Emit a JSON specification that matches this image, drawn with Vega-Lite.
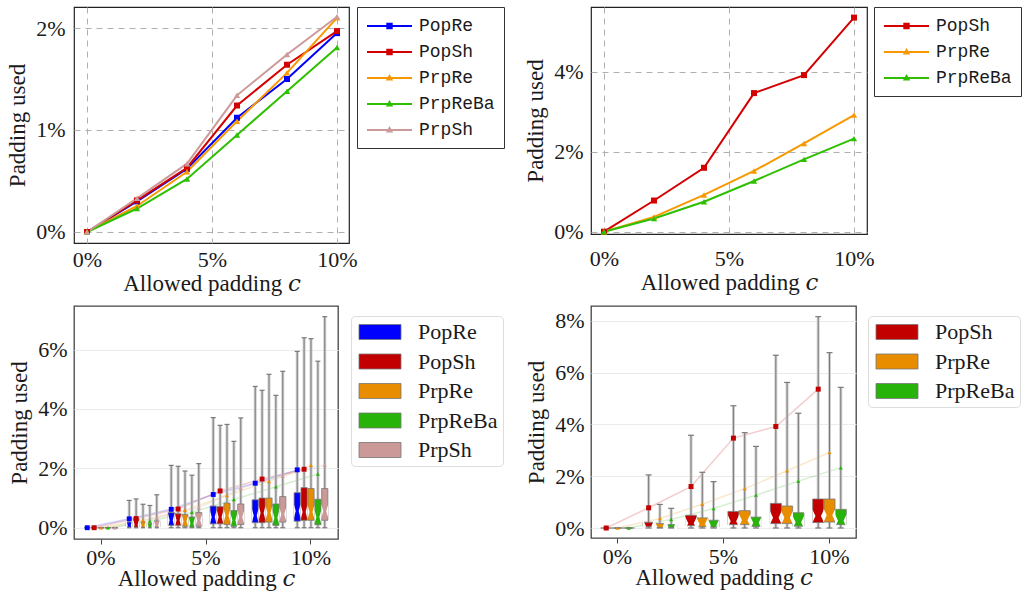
{
"$schema": "https://vega.github.io/schema/vega-lite/v6.json",
"padding": {"left": 6, "top": 5, "right": 5, "bottom": 0},
"background": "white",
"config": {
  "font": "Liberation Serif",
  "view": {"stroke": null},
  "axis": {"labelFont": "Liberation Serif", "titleFont": "Liberation Serif, DejaVu Serif", "labelFontSize": 22, "titleFontSize": 23, "titleFontWeight": "normal", "labelColor": "#1a1a1a", "titleColor": "#1a1a1a", "domain": false, "labelOverlap": false, "labelFlush": false}
},
"datasets": {
  "left": [
    {"c":0,"s":"PopRe","lo":0,"q1":0,"med":0,"q3":0,"hi":0,"mean":0},
    {"c":0,"s":"PopSh","lo":0,"q1":0,"med":0,"q3":0,"hi":0,"mean":0},
    {"c":0,"s":"PrpRe","lo":0,"q1":0,"med":0,"q3":0,"hi":0,"mean":0},
    {"c":0,"s":"PrpReBa","lo":0,"q1":0,"med":0,"q3":0,"hi":0,"mean":0},
    {"c":0,"s":"PrpSh","lo":0,"q1":0,"med":0,"q3":0,"hi":0,"mean":0},
    {"c":2,"s":"PopRe","lo":0,"q1":0.02,"med":0.08,"q3":0.19,"hi":0.92,"mean":0.30},
    {"c":2,"s":"PopSh","lo":0,"q1":0.02,"med":0.10,"q3":0.30,"hi":0.97,"mean":0.31},
    {"c":2,"s":"PrpRe","lo":0,"q1":0.02,"med":0.07,"q3":0.19,"hi":0.79,"mean":0.255},
    {"c":2,"s":"PrpReBa","lo":0,"q1":0.01,"med":0.05,"q3":0.14,"hi":0.75,"mean":0.23},
    {"c":2,"s":"PrpSh","lo":0,"q1":0.02,"med":0.08,"q3":0.23,"hi":1.11,"mean":0.33},
    {"c":4,"s":"PopRe","lo":0,"q1":0.08,"med":0.25,"q3":0.51,"hi":2.10,"mean":0.62},
    {"c":4,"s":"PopSh","lo":0,"q1":0.08,"med":0.25,"q3":0.47,"hi":2.07,"mean":0.63},
    {"c":4,"s":"PrpRe","lo":0,"q1":0.05,"med":0.22,"q3":0.44,"hi":1.91,"mean":0.59},
    {"c":4,"s":"PrpReBa","lo":0,"q1":0.02,"med":0.15,"q3":0.36,"hi":1.77,"mean":0.52},
    {"c":4,"s":"PrpSh","lo":0,"q1":0.05,"med":0.25,"q3":0.51,"hi":2.16,"mean":0.67},
    {"c":6,"s":"PopRe","lo":0,"q1":0.13,"med":0.36,"q3":0.73,"hi":3.71,"mean":1.12},
    {"c":6,"s":"PopSh","lo":0,"q1":0.13,"med":0.36,"q3":0.71,"hi":3.45,"mean":1.24},
    {"c":6,"s":"PrpRe","lo":0,"q1":0.11,"med":0.41,"q3":0.83,"hi":3.48,"mean":1.085},
    {"c":6,"s":"PrpReBa","lo":0,"q1":0.05,"med":0.25,"q3":0.58,"hi":2.91,"mean":0.95},
    {"c":6,"s":"PrpSh","lo":0,"q1":0.11,"med":0.36,"q3":0.80,"hi":3.70,"mean":1.34},
    {"c":8,"s":"PopRe","lo":0,"q1":0.17,"med":0.41,"q3":0.94,"hi":4.76,"mean":1.50},
    {"c":8,"s":"PopSh","lo":0,"q1":0.17,"med":0.50,"q3":1.00,"hi":4.63,"mean":1.64},
    {"c":8,"s":"PrpRe","lo":0,"q1":0.19,"med":0.50,"q3":1.00,"hi":5.17,"mean":1.56},
    {"c":8,"s":"PrpReBa","lo":0,"q1":0.08,"med":0.34,"q3":0.80,"hi":4.46,"mean":1.38},
    {"c":8,"s":"PrpSh","lo":0,"q1":0.19,"med":0.45,"q3":1.05,"hi":5.27,"mean":1.74},
    {"c":10,"s":"PopRe","lo":0,"q1":0.22,"med":0.56,"q3":1.18,"hi":5.94,"mean":1.95},
    {"c":10,"s":"PopSh","lo":0,"q1":0.25,"med":0.53,"q3":1.35,"hi":6.40,"mean":1.97},
    {"c":10,"s":"PrpRe","lo":0,"q1":0.25,"med":0.53,"q3":1.32,"hi":6.37,"mean":2.10},
    {"c":10,"s":"PrpReBa","lo":0,"q1":0.10,"med":0.36,"q3":0.96,"hi":5.61,"mean":1.81},
    {"c":10,"s":"PrpSh","lo":0,"q1":0.25,"med":0.56,"q3":1.32,"hi":7.11,"mean":2.11}
  ],
  "right": [
    {"c":0,"s":"PopSh","lo":0,"q1":0,"med":0,"q3":0,"hi":0,"mean":0},
    {"c":0,"s":"PrpRe","lo":0,"q1":0,"med":0,"q3":0,"hi":0,"mean":0},
    {"c":0,"s":"PrpReBa","lo":0,"q1":0,"med":0,"q3":0,"hi":0,"mean":0},
    {"c":2,"s":"PopSh","lo":0,"q1":0.05,"med":0.08,"q3":0.22,"hi":2.05,"mean":0.78},
    {"c":2,"s":"PrpRe","lo":0,"q1":0.02,"med":0.06,"q3":0.17,"hi":0.91,"mean":0.37},
    {"c":2,"s":"PrpReBa","lo":0,"q1":0.02,"med":0.05,"q3":0.13,"hi":0.76,"mean":0.33},
    {"c":4,"s":"PopSh","lo":0,"q1":0.09,"med":0.18,"q3":0.49,"hi":3.58,"mean":1.60},
    {"c":4,"s":"PrpRe","lo":0,"q1":0.05,"med":0.15,"q3":0.39,"hi":2.15,"mean":0.92},
    {"c":4,"s":"PrpReBa","lo":0,"q1":0.04,"med":0.10,"q3":0.30,"hi":1.79,"mean":0.75},
    {"c":6,"s":"PopSh","lo":0,"q1":0.13,"med":0.26,"q3":0.64,"hi":4.72,"mean":3.47},
    {"c":6,"s":"PrpRe","lo":0,"q1":0.13,"med":0.30,"q3":0.67,"hi":3.68,"mean":1.52},
    {"c":6,"s":"PrpReBa","lo":0,"q1":0.06,"med":0.20,"q3":0.42,"hi":3.15,"mean":1.27},
    {"c":8,"s":"PopSh","lo":0,"q1":0.17,"med":0.40,"q3":0.95,"hi":6.67,"mean":3.92},
    {"c":8,"s":"PrpRe","lo":0,"q1":0.17,"med":0.40,"q3":0.85,"hi":5.62,"mean":2.21},
    {"c":8,"s":"PrpReBa","lo":0,"q1":0.07,"med":0.22,"q3":0.59,"hi":4.43,"mean":1.81},
    {"c":10,"s":"PopSh","lo":0,"q1":0.21,"med":0.46,"q3":1.12,"hi":8.16,"mean":5.36},
    {"c":10,"s":"PrpRe","lo":0,"q1":0.23,"med":0.49,"q3":1.12,"hi":6.77,"mean":2.92},
    {"c":10,"s":"PrpReBa","lo":0,"q1":0.13,"med":0.28,"q3":0.72,"hi":5.43,"mean":2.33}
  ]
},
"columns": 2,
"spacing": {"row": 63, "column": 241},
"bounds": "flush",
"align": "all",
"resolve": {"scale": {"x":"independent","y":"independent","color":"independent","fill":"independent","stroke":"independent","shape":"independent","xOffset":"independent"}, "legend": {"color":"independent","shape":"independent","fill":"independent","stroke":"independent"}},
"concat": [
   {
    "width": 275, "height": 236,
    "view": {"stroke": "#222222", "strokeWidth": 1.2},
    "data": {"name": "left"},
    "encoding": {
      "x": {"field": "c", "type": "quantitative", "scale": {"domain": [-0.52, 10.48], "nice": false, "zero": false},
            "axis": {"values": [0,5,10], "labelExpr": "datum.value + '%'", "title": "Allowed padding 𝑐", "grid": true, "gridDash": [6,5], "gridColor": "#b0b0b0", "ticks": false, "tickSize": 0, "labelPadding": 6, "titlePadding": 2}},
      "y": {"field": "mean", "type": "quantitative", "scale": {"domain": [-0.108, 2.206], "nice": false, "zero": false},
            "axis": {"values": [0,1,2], "labelExpr": "datum.value + '%'", "title": "Padding used", "grid": true, "gridDash": [6,5], "gridColor": "#b0b0b0", "ticks": false, "tickSize": 0, "labelPadding": 9, "titlePadding": 6}}
    },
    "layer": [
      {"mark": {"type": "line", "strokeWidth": 2}, "encoding": {"stroke": {"field": "s", "type": "nominal", "scale": {"domain": ["PrpSh","PrpReBa","PrpRe","PopSh","PopRe"], "range": ["#cc9a9a","#2dbf00","#f79800","#d40000","#0000ff"]}, "legend": null}}},
      {"transform": [{"filter": "indexof(datum.s, 'Pop') === 0"}], "mark": {"type": "point", "filled": true, "shape": "square", "size": 36, "opacity": 1}, "encoding": {"fill": {"field": "s", "type": "nominal", "scale": {"domain": ["PopSh","PrpRe","PrpReBa","PrpSh","PopRe"], "range": ["#d40000","#f79800","#2dbf00","#cc9a9a","#0000ff"]}, "legend": null}}},
      {"transform": [{"filter": "indexof(datum.s, 'Prp') === 0"}], "mark": {"type": "point", "filled": true, "shape": "triangle-up", "size": 40, "opacity": 1}, "encoding": {"fill": {"field": "s", "type": "nominal", "scale": {"domain": ["PopSh","PrpRe","PrpReBa","PrpSh","PopRe"], "range": ["#d40000","#f79800","#2dbf00","#cc9a9a","#0000ff"]}, "legend": null}}},
      {"transform": [{"filter": "false"}], "mark": {"type": "point", "filled": true, "opacity": 1},
       "encoding": {
         "color": {"field": "s", "type": "nominal", "scale": {"domain": ["PopRe","PopSh","PrpRe","PrpReBa","PrpSh"], "range": ["#0000ff","#d40000","#f79800","#2dbf00","#cc9a9a"]},
                   "legend": {"title": null, "orient": "none", "legendX": 283, "legendY": 0, "labelFont": "Liberation Mono", "labelFontSize": 18, "labelColor": "#1a1a1a", "symbolSize": 400, "symbolOffset": 13.5, "labelOffset": 19.5, "rowPadding": 7, "padding": 9, "strokeColor": "#333333", "fillColor": "white", "symbolStrokeWidth": 0, "symbolOpacity": 1}},
         "shape": {"field": "s", "type": "nominal", "scale": {"domain": ["PopRe","PopSh","PrpRe","PrpReBa","PrpSh"], "range": ["M-2.25,-0.11H2.25V0.11H-2.25ZM-0.32,-0.32H0.32V0.32H-0.32Z","M-2.25,-0.11H2.25V0.11H-2.25ZM-0.32,-0.32H0.32V0.32H-0.32Z","M-2.25,-0.11H2.25V0.11H-2.25ZM0,-0.4L0.37,0.26H-0.37Z","M-2.25,-0.11H2.25V0.11H-2.25ZM0,-0.4L0.37,0.26H-0.37Z","M-2.25,-0.11H2.25V0.11H-2.25ZM0,-0.4L0.37,0.26H-0.37Z"]},
                   "legend": {"title": null, "orient": "none", "legendX": 283, "legendY": 0, "labelFont": "Liberation Mono", "labelFontSize": 18, "labelColor": "#1a1a1a", "symbolSize": 400, "symbolOffset": 13.5, "labelOffset": 19.5, "rowPadding": 7, "padding": 9, "strokeColor": "#333333", "fillColor": "white", "symbolStrokeWidth": 0, "symbolOpacity": 1}}
       }}
    ]
   },
   {
    "width": 276, "height": 227,
    "view": {"stroke": "#222222", "strokeWidth": 1.2},
    "data": {"name": "right"},
    "encoding": {
      "x": {"field": "c", "type": "quantitative", "scale": {"domain": [-0.52, 10.52], "nice": false, "zero": false},
            "axis": {"values": [0,5,10], "labelExpr": "datum.value + '%'", "title": "Allowed padding 𝑐", "grid": true, "gridDash": [6,5], "gridColor": "#b0b0b0", "ticks": false, "tickSize": 0, "labelPadding": 14, "titlePadding": 2}},
      "y": {"field": "mean", "type": "quantitative", "scale": {"domain": [-0.058, 5.625], "nice": false, "zero": false},
            "axis": {"values": [0,2,4], "labelExpr": "datum.value + '%'", "title": "Padding used", "grid": true, "gridDash": [6,5], "gridColor": "#b0b0b0", "ticks": false, "tickSize": 0, "labelPadding": 8, "titlePadding": 6}}
    },
    "layer": [
      {"mark": {"type": "line", "strokeWidth": 2}, "encoding": {"stroke": {"field": "s", "type": "nominal", "scale": {"domain": ["PrpReBa","PrpRe","PopSh"], "range": ["#2dbf00","#f79800","#d40000"]}, "legend": null}}},
      {"transform": [{"filter": "indexof(datum.s, 'Pop') === 0"}], "mark": {"type": "point", "filled": true, "shape": "square", "size": 36, "opacity": 1}, "encoding": {"fill": {"field": "s", "type": "nominal", "scale": {"domain": ["PrpRe","PrpReBa","PopSh"], "range": ["#f79800","#2dbf00","#d40000"]}, "legend": null}}},
      {"transform": [{"filter": "indexof(datum.s, 'Prp') === 0"}], "mark": {"type": "point", "filled": true, "shape": "triangle-up", "size": 40, "opacity": 1}, "encoding": {"fill": {"field": "s", "type": "nominal", "scale": {"domain": ["PrpRe","PrpReBa","PopSh"], "range": ["#f79800","#2dbf00","#d40000"]}, "legend": null}}},
      {"transform": [{"filter": "false"}], "mark": {"type": "point", "filled": true, "opacity": 1},
       "encoding": {
         "color": {"field": "s", "type": "nominal", "scale": {"domain": ["PopSh","PrpRe","PrpReBa"], "range": ["#d40000","#f79800","#2dbf00"]},
                   "legend": {"title": null, "orient": "none", "legendX": 283, "legendY": 0, "labelFont": "Liberation Mono", "labelFontSize": 18, "labelColor": "#1a1a1a", "symbolSize": 400, "symbolOffset": 13.5, "labelOffset": 19.5, "rowPadding": 7, "padding": 9, "strokeColor": "#333333", "fillColor": "white", "symbolStrokeWidth": 0, "symbolOpacity": 1}},
         "shape": {"field": "s", "type": "nominal", "scale": {"domain": ["PopSh","PrpRe","PrpReBa"], "range": ["M-2.25,-0.11H2.25V0.11H-2.25ZM-0.32,-0.32H0.32V0.32H-0.32Z","M-2.25,-0.11H2.25V0.11H-2.25ZM0,-0.4L0.37,0.26H-0.37Z","M-2.25,-0.11H2.25V0.11H-2.25ZM0,-0.4L0.37,0.26H-0.37Z"]},
                   "legend": {"title": null, "orient": "none", "legendX": 283, "legendY": 0, "labelFont": "Liberation Mono", "labelFontSize": 18, "labelColor": "#1a1a1a", "symbolSize": 400, "symbolOffset": 13.5, "labelOffset": 19.5, "rowPadding": 7, "padding": 9, "strokeColor": "#333333", "fillColor": "white", "symbolStrokeWidth": 0, "symbolOpacity": 1}}
       }}
    ]
   },
   {
    "width": 264, "height": 233,
    "view": {"stroke": "#444444", "strokeWidth": 1.3},
    "data": {"name": "left"},
    "encoding": {
      "x": {"field": "c", "type": "ordinal", "scale": {"domain": [0,1,2,3,4,5,6,7,8,9,10], "paddingInner": 0, "paddingOuter": 0.786},
            "axis": {"values": [0,5,10], "labelExpr": "datum.value + '%'", "labelAngle": 0, "title": "Allowed padding 𝑐", "grid": false, "ticks": true, "tickSize": 5, "tickColor": "#444444", "labelPadding": 3, "titlePadding": -1}},
      "xOffset": {"field": "s", "type": "nominal", "scale": {"domain": ["PopRe","PopSh","PrpRe","PrpReBa","PrpSh"], "range": [-6.375, 27.375], "paddingInner": 0.1, "paddingOuter": 0}}
    },
    "layer": [
      {"mark": {"type": "line", "strokeWidth": 1.5, "opacity": 0.2},
       "encoding": {"y": {"field": "mean", "type": "quantitative", "scale": {"domain": [-0.38, 7.47], "nice": false, "zero": false}, "axis": {"values": [0,2,4,6], "labelExpr": "datum.value + '%'", "title": "Padding used", "grid": true, "gridColor": "#ebebeb", "ticks": false, "tickSize": 0, "labelPadding": 7, "titlePadding": 6}},
                    "stroke": {"field": "s", "type": "nominal", "scale": {"domain": ["PrpSh","PrpReBa","PrpRe","PopSh","PopRe"], "range": ["#cc9999","#27b30a","#e88c00","#c20000","#0000ff"]}, "legend": null}}},
      {"mark": {"type": "rule", "color": "#cfcfcf", "strokeWidth": 3},
       "encoding": {"y": {"field": "lo", "type": "quantitative", "scale": {"domain": [-0.38, 7.47], "nice": false, "zero": false}, "axis": {"values": [0,2,4,6], "labelExpr": "datum.value + '%'", "title": "Padding used", "grid": true, "gridColor": "#ebebeb", "ticks": false, "tickSize": 0, "labelPadding": 7, "titlePadding": 6}}, "y2": {"field": "hi"}}},
      {"mark": {"type": "rule", "color": "#7a7a7a", "strokeWidth": 1},
       "encoding": {"y": {"field": "lo", "type": "quantitative", "scale": {"domain": [-0.38, 7.47], "nice": false, "zero": false}, "axis": {"values": [0,2,4,6], "labelExpr": "datum.value + '%'", "title": "Padding used", "grid": true, "gridColor": "#ebebeb", "ticks": false, "tickSize": 0, "labelPadding": 7, "titlePadding": 6}}, "y2": {"field": "hi"}}},
      {"mark": {"type": "tick", "color": "#7a7a7a", "thickness": 1.2, "size": 5, "opacity": 1},
       "encoding": {"y": {"field": "hi", "type": "quantitative", "scale": {"domain": [-0.38, 7.47], "nice": false, "zero": false}, "axis": {"values": [0,2,4,6], "labelExpr": "datum.value + '%'", "title": "Padding used", "grid": true, "gridColor": "#ebebeb", "ticks": false, "tickSize": 0, "labelPadding": 7, "titlePadding": 6}}}},
      {"mark": {"type": "tick", "color": "#7a7a7a", "thickness": 1.2, "size": 5, "opacity": 1},
       "encoding": {"y": {"field": "lo", "type": "quantitative", "scale": {"domain": [-0.38, 7.47], "nice": false, "zero": false}, "axis": {"values": [0,2,4,6], "labelExpr": "datum.value + '%'", "title": "Padding used", "grid": true, "gridColor": "#ebebeb", "ticks": false, "tickSize": 0, "labelPadding": 7, "titlePadding": 6}}}},
      {"mark": {"type": "bar", "stroke": "#7a7a7a", "strokeWidth": 0.8, "opacity": 1},
       "encoding": {"y": {"field": "q1", "type": "quantitative", "scale": {"domain": [-0.38, 7.47], "nice": false, "zero": false}, "axis": {"values": [0,2,4,6], "labelExpr": "datum.value + '%'", "title": "Padding used", "grid": true, "gridColor": "#ebebeb", "ticks": false, "tickSize": 0, "labelPadding": 7, "titlePadding": 6}}, "y2": {"field": "q3"},
                    "color": {"field": "s", "type": "nominal", "scale": {"domain": ["PopRe","PopSh","PrpRe","PrpReBa","PrpSh"], "range": ["#0000ff","#c20000","#e88c00","#27b30a","#cc9999"]},
                              "legend": {"title": null, "orient": "none", "legendX": 277, "legendY": 10, "labelFont": "Liberation Serif", "labelFontSize": 22, "labelColor": "#1a1a1a", "symbolType": "M-2.8,-1H2.8V1H-2.8Z", "symbolSize": 225, "symbolOffset": 13, "labelOffset": 27, "rowPadding": 7.5, "padding": 5, "strokeColor": "#dddddd", "cornerRadius": 4, "fillColor": "white", "symbolStrokeColor": "#777777", "symbolStrokeWidth": 0.8, "symbolOpacity": 1}}}},
      {"transform": [{"filter": "datum.c > 0"}], "mark": {"type": "point", "filled": true, "color": "white", "opacity": 1, "shape": "M-1.12,-2.3L-0.5,0L-1.12,2.3ZM1.12,-2.3L0.5,0L1.12,2.3Z", "size": 36, "strokeWidth": 0},
       "encoding": {"y": {"field": "med", "type": "quantitative", "scale": {"domain": [-0.38, 7.47], "nice": false, "zero": false}, "axis": {"values": [0,2,4,6], "labelExpr": "datum.value + '%'", "title": "Padding used", "grid": true, "gridColor": "#ebebeb", "ticks": false, "tickSize": 0, "labelPadding": 7, "titlePadding": 6}}}},
      {"transform": [{"filter": "indexof(datum.s, 'Pop') === 0"}], "mark": {"type": "point", "filled": true, "shape": "square", "size": 24, "opacity": 1},
       "encoding": {"y": {"field": "mean", "type": "quantitative", "scale": {"domain": [-0.38, 7.47], "nice": false, "zero": false}, "axis": {"values": [0,2,4,6], "labelExpr": "datum.value + '%'", "title": "Padding used", "grid": true, "gridColor": "#ebebeb", "ticks": false, "tickSize": 0, "labelPadding": 7, "titlePadding": 6}},
                    "fill": {"field": "s", "type": "nominal", "scale": {"domain": ["PopSh","PrpRe","PrpReBa","PrpSh","PopRe"], "range": ["#c20000","#e88c00","#27b30a","#cc9999","#0000ff"]}, "legend": null}}},
      {"transform": [{"filter": "indexof(datum.s, 'Prp') === 0"}], "mark": {"type": "point", "filled": true, "shape": "triangle-up", "size": 16, "opacity": 1},
       "encoding": {"y": {"field": "mean", "type": "quantitative", "scale": {"domain": [-0.38, 7.47], "nice": false, "zero": false}, "axis": {"values": [0,2,4,6], "labelExpr": "datum.value + '%'", "title": "Padding used", "grid": true, "gridColor": "#ebebeb", "ticks": false, "tickSize": 0, "labelPadding": 7, "titlePadding": 6}},
                    "fill": {"field": "s", "type": "nominal", "scale": {"domain": ["PopSh","PrpRe","PrpReBa","PrpSh","PopRe"], "range": ["#c20000","#e88c00","#27b30a","#cc9999","#0000ff"]}, "legend": null}}}
    ]
   },
   {
    "width": 265, "height": 232,
    "view": {"stroke": "#444444", "strokeWidth": 1.3},
    "data": {"name": "right"},
    "encoding": {
      "x": {"field": "c", "type": "ordinal", "scale": {"domain": [0,1,2,3,4,5,6,7,8,9,10], "paddingInner": 0, "paddingOuter": 0.75},
            "axis": {"values": [0,5,10], "labelExpr": "datum.value + '%'", "labelAngle": 0, "title": "Allowed padding 𝑐", "grid": false, "ticks": true, "tickSize": 5, "tickColor": "#444444", "labelPadding": 3, "titlePadding": -1}},
      "xOffset": {"field": "s", "type": "nominal", "scale": {"domain": ["PopSh","PrpRe","PrpReBa"], "range": [-6.2, 27.4], "paddingInner": 0.02, "paddingOuter": 0}}
    },
    "layer": [
      {"mark": {"type": "line", "strokeWidth": 1.5, "opacity": 0.2},
       "encoding": {"y": {"field": "mean", "type": "quantitative", "scale": {"domain": [-0.386, 8.571], "nice": false, "zero": false}, "axis": {"values": [0,2,4,6,8], "labelExpr": "datum.value + '%'", "title": "Padding used", "grid": true, "gridColor": "#ebebeb", "ticks": false, "tickSize": 0, "labelPadding": 7, "titlePadding": 6}},
                    "stroke": {"field": "s", "type": "nominal", "scale": {"domain": ["PrpReBa","PrpRe","PopSh"], "range": ["#27b30a","#e88c00","#c20000"]}, "legend": null}}},
      {"mark": {"type": "rule", "color": "#cfcfcf", "strokeWidth": 3},
       "encoding": {"y": {"field": "lo", "type": "quantitative", "scale": {"domain": [-0.386, 8.571], "nice": false, "zero": false}, "axis": {"values": [0,2,4,6,8], "labelExpr": "datum.value + '%'", "title": "Padding used", "grid": true, "gridColor": "#ebebeb", "ticks": false, "tickSize": 0, "labelPadding": 7, "titlePadding": 6}}, "y2": {"field": "hi"}}},
      {"mark": {"type": "rule", "color": "#7a7a7a", "strokeWidth": 1},
       "encoding": {"y": {"field": "lo", "type": "quantitative", "scale": {"domain": [-0.386, 8.571], "nice": false, "zero": false}, "axis": {"values": [0,2,4,6,8], "labelExpr": "datum.value + '%'", "title": "Padding used", "grid": true, "gridColor": "#ebebeb", "ticks": false, "tickSize": 0, "labelPadding": 7, "titlePadding": 6}}, "y2": {"field": "hi"}}},
      {"mark": {"type": "tick", "color": "#7a7a7a", "thickness": 1.2, "size": 6, "opacity": 1},
       "encoding": {"y": {"field": "hi", "type": "quantitative", "scale": {"domain": [-0.386, 8.571], "nice": false, "zero": false}, "axis": {"values": [0,2,4,6,8], "labelExpr": "datum.value + '%'", "title": "Padding used", "grid": true, "gridColor": "#ebebeb", "ticks": false, "tickSize": 0, "labelPadding": 7, "titlePadding": 6}}}},
      {"mark": {"type": "tick", "color": "#7a7a7a", "thickness": 1.2, "size": 6, "opacity": 1},
       "encoding": {"y": {"field": "lo", "type": "quantitative", "scale": {"domain": [-0.386, 8.571], "nice": false, "zero": false}, "axis": {"values": [0,2,4,6,8], "labelExpr": "datum.value + '%'", "title": "Padding used", "grid": true, "gridColor": "#ebebeb", "ticks": false, "tickSize": 0, "labelPadding": 7, "titlePadding": 6}}}},
      {"mark": {"type": "bar", "stroke": "#7a7a7a", "strokeWidth": 0.8, "opacity": 1},
       "encoding": {"y": {"field": "q1", "type": "quantitative", "scale": {"domain": [-0.386, 8.571], "nice": false, "zero": false}, "axis": {"values": [0,2,4,6,8], "labelExpr": "datum.value + '%'", "title": "Padding used", "grid": true, "gridColor": "#ebebeb", "ticks": false, "tickSize": 0, "labelPadding": 7, "titlePadding": 6}}, "y2": {"field": "q3"},
                    "color": {"field": "s", "type": "nominal", "scale": {"domain": ["PopSh","PrpRe","PrpReBa"], "range": ["#c20000","#e88c00","#27b30a"]},
                              "legend": {"title": null, "orient": "none", "legendX": 277, "legendY": 10, "labelFont": "Liberation Serif", "labelFontSize": 22, "labelColor": "#1a1a1a", "symbolType": "M-2.8,-1H2.8V1H-2.8Z", "symbolSize": 225, "symbolOffset": 13, "labelOffset": 27, "rowPadding": 7.5, "padding": 5, "strokeColor": "#dddddd", "cornerRadius": 4, "fillColor": "white", "symbolStrokeColor": "#777777", "symbolStrokeWidth": 0.8, "symbolOpacity": 1}}}},
      {"transform": [{"filter": "datum.c > 0"}], "mark": {"type": "point", "filled": true, "color": "white", "opacity": 1, "shape": "M-1.06,-1.2L-0.5,0L-1.06,1.2ZM1.06,-1.2L0.5,0L1.06,1.2Z", "size": 121, "strokeWidth": 0},
       "encoding": {"y": {"field": "med", "type": "quantitative", "scale": {"domain": [-0.386, 8.571], "nice": false, "zero": false}, "axis": {"values": [0,2,4,6,8], "labelExpr": "datum.value + '%'", "title": "Padding used", "grid": true, "gridColor": "#ebebeb", "ticks": false, "tickSize": 0, "labelPadding": 7, "titlePadding": 6}}}},
      {"transform": [{"filter": "indexof(datum.s, 'Pop') === 0"}], "mark": {"type": "point", "filled": true, "shape": "square", "size": 25, "opacity": 1},
       "encoding": {"y": {"field": "mean", "type": "quantitative", "scale": {"domain": [-0.386, 8.571], "nice": false, "zero": false}, "axis": {"values": [0,2,4,6,8], "labelExpr": "datum.value + '%'", "title": "Padding used", "grid": true, "gridColor": "#ebebeb", "ticks": false, "tickSize": 0, "labelPadding": 7, "titlePadding": 6}},
                    "fill": {"field": "s", "type": "nominal", "scale": {"domain": ["PrpRe","PrpReBa","PopSh"], "range": ["#e88c00","#27b30a","#c20000"]}, "legend": null}}},
      {"transform": [{"filter": "indexof(datum.s, 'Prp') === 0"}], "mark": {"type": "point", "filled": true, "shape": "triangle-up", "size": 16, "opacity": 1},
       "encoding": {"y": {"field": "mean", "type": "quantitative", "scale": {"domain": [-0.386, 8.571], "nice": false, "zero": false}, "axis": {"values": [0,2,4,6,8], "labelExpr": "datum.value + '%'", "title": "Padding used", "grid": true, "gridColor": "#ebebeb", "ticks": false, "tickSize": 0, "labelPadding": 7, "titlePadding": 6}},
                    "fill": {"field": "s", "type": "nominal", "scale": {"domain": ["PrpRe","PrpReBa","PopSh"], "range": ["#e88c00","#27b30a","#c20000"]}, "legend": null}}}
    ]
   }
]
}
